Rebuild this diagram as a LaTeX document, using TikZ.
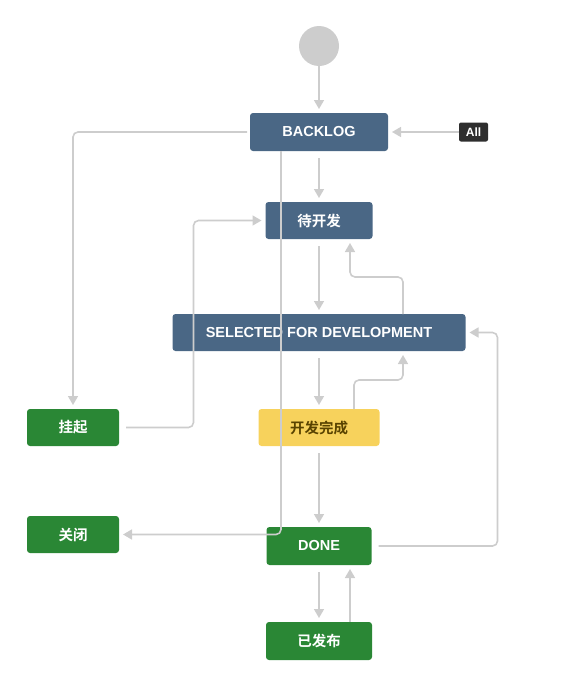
\documentclass[tikz,border=0pt]{standalone}
\usepackage{fontspec}
\setmainfont{Liberation Sans}
\newfontfamily\cjk{Noto Sans CJK SC}[BoldFont={Noto Sans CJK SC Bold}]
\usetikzlibrary{arrows.meta}
\definecolor{jblue}{HTML}{4A6785}
\definecolor{jgreen}{HTML}{2A8735}
\definecolor{jyellow}{HTML}{F7D25C}
\definecolor{jbrown}{HTML}{594300}
\definecolor{jgray}{HTML}{CDCDCD}
\begin{document}
\begin{tikzpicture}[x=1pt,y=-1pt,inner sep=0pt,outer sep=0pt,
>={Triangle[length=9pt,width=10pt]},
status/.style={rectangle,rounded corners=3pt,minimum height=37pt,text=white,
  font=\fontsize{14.5}{16}\selectfont\bfseries},
todostat/.style={status,fill=jblue},
donestat/.style={status,fill=jgreen},
progstat/.style={status,fill=jyellow,text=jbrown},
trans/.style={draw=jgray,line width=1.6pt,rounded corners=5pt,shorten >=4pt,shorten <=7pt}]
\useasboundingbox (0,0) rectangle (568,699);
\draw (319,46) node[circle,fill=jgray,minimum size=40pt] (start) {};
\draw (319,132) node[todostat,minimum width=138pt,minimum height=38pt] (backlog) {BACKLOG};
\draw (473.5,132) node[rectangle,rounded corners=2pt,fill=black!82,minimum width=29pt,minimum height=19pt,
  text=white,font=\fontsize{12}{14}\selectfont\bfseries] (all) {All};
\draw (319,220.5) node[todostat,minimum width=107pt] (todo) {\cjk 待开发};
\draw (319,332.5) node[todostat,minimum width=293pt] (sel) {SELECTED FOR DEVELOPMENT};
\draw (73,427.5) node[donestat,minimum width=92pt] (hold) {\cjk 挂起};
\draw (319,427.5) node[progstat,minimum width=121pt] (devdone) {\cjk 开发完成};
\draw (73,534.5) node[donestat,minimum width=92pt] (closed) {\cjk 关闭};
\draw (319,546) node[donestat,minimum width=105pt,minimum height=38pt] (done) {DONE};
\draw (319,641) node[donestat,minimum width=106pt,minimum height=38pt] (pub) {\cjk 已发布};
% transitions
\draw[trans,->,shorten <=0pt] (start) -- (backlog.north);
\draw[trans,->,shorten <=0pt] (all.west) -- (backlog.east);
\draw[trans,->,shorten <=3pt] (backlog.west) -| (hold.north);
\draw[trans,->,shorten <=0pt] ([xshift=-38pt]backlog.south) |- (closed.east);
\draw[trans,->] (backlog.south) -- (todo.north);
\draw[trans,->] (hold.east) -| ([xshift=-72pt]todo.west) -- (todo.west);
\draw[trans,->] (todo.south) -- (sel.north);
\draw[trans,->,shorten <=0pt] ([xshift=84pt]sel.north) -- ++(0,-37) -| ([xshift=31pt]todo.south);
\draw[trans,->] (sel.south) -- (devdone.north);
\draw[trans,->,shorten <=0pt] ([xshift=35pt]devdone.north) -- ++(0,-29) -| ([xshift=84pt]sel.south);
\draw[trans,->] (devdone.south) -- (done.north);
\draw[trans,->] (done.east) -| ([xshift=32pt]sel.east) -- (sel.east);
\draw[trans,->] (done.south) -- (pub.north);
\draw[trans,->,shorten <=0pt] ([xshift=31pt]pub.north) -- ([xshift=31pt]done.south);
\end{tikzpicture}
\end{document}
